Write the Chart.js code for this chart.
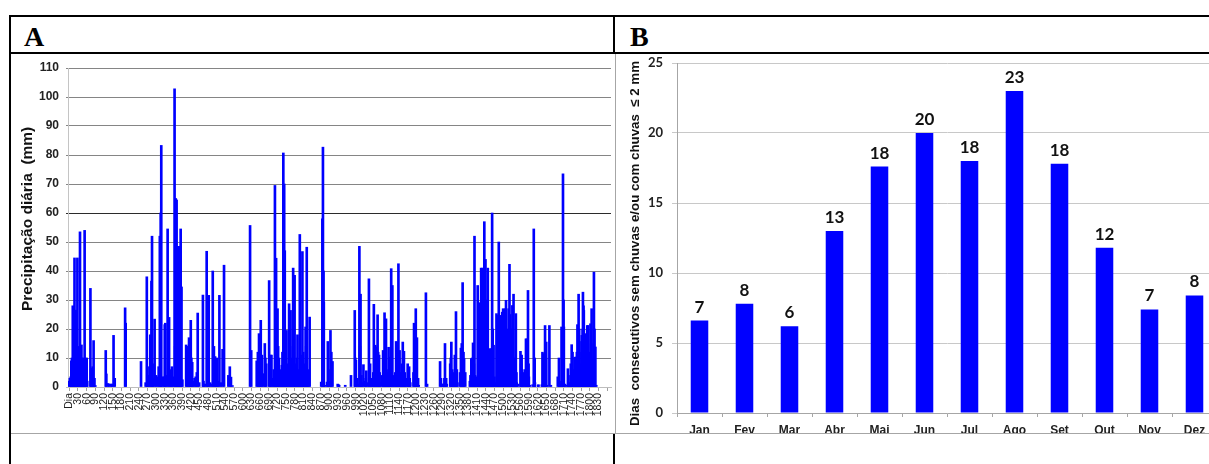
<!DOCTYPE html>
<html>
<head>
<meta charset="utf-8">
<script src="https://cdn.jsdelivr.net/npm/chart.js@4.4.1/dist/chart.umd.min.js"></script>
<style>
  html, body { margin: 0; padding: 0; width: 1209px; height: 464px; overflow: hidden; background: #fff; }
  .rule { position: absolute; background: #000; }
  .soft { position: absolute; background: #a6a6a6; }
  .letter { position: absolute; top: 23px; font: bold 28px "Liberation Serif", "Times New Roman", serif; line-height: 28px; color: #000; }
  canvas { position: absolute; }
  #chartA { left: 11px; top: 54px; }
  #chartB { left: 615px; top: 54px; }
</style>
</head>
<body>
<canvas id="chartA" width="603" height="379"></canvas>
<canvas id="chartB" width="602" height="379"></canvas>

<!-- table frame -->
<div class="rule" style="left:9px; top:15px; width:1200px; height:2px"></div>
<div class="rule" style="left:9px; top:15px; width:2px; height:449px"></div>
<div class="rule" style="left:9px; top:52px; width:1200px; height:2px"></div>
<div class="rule" style="left:613px; top:15px; width:2px; height:38px"></div>
<div class="rule" style="left:613px; top:433px; width:2px; height:31px"></div>
<div class="soft" style="left:11px; top:433px; width:1198px; height:1px"></div>
<div class="soft" style="left:615px; top:54px; width:1px; height:379px"></div>
<div class="letter" style="left:24px">A</div>
<div class="letter" style="left:630px">B</div>

<script>
// Panel A - daily rainfall (day index, mm); days not listed had no rain
const rainDays = [
  0, 2, 5, 7, 9, 12, 14, 16, 18, 21, 23, 25, 28, 30, 32, 35, 37, 39, 42, 44, 46, 48, 51, 53, 55, 58, 60, 62, 73, 75, 77, 81, 84, 87, 90,
  126, 128, 134, 138, 144, 148, 153, 157, 193, 195, 248,
  264, 268, 270, 272, 277, 280, 284, 286, 288, 290, 295, 300, 305, 309, 313, 316, 318, 322, 327, 330, 332, 336, 340, 345, 349, 352, 355, 360, 364, 366, 368, 371, 373, 374, 376, 379, 381, 383, 385, 388, 391,
  404, 407, 411, 414, 418, 420, 422, 425, 428, 433, 437, 441, 444, 449, 462, 464, 466, 471, 475, 479, 482, 487, 492, 496, 500, 504, 508, 510, 515, 519, 524, 530, 535, 550, 555, 559, 564,
  625, 629, 648, 652, 656, 659, 662, 666, 671, 676, 678, 681, 691, 693, 696, 699, 704, 707, 711, 713, 715, 718, 720, 722, 725, 727, 729, 733, 735, 737, 740, 743, 745, 748, 751, 753, 756, 760, 763, 765, 767, 770, 774, 776, 779, 781, 783, 787, 789, 791, 794, 797, 800, 802, 804, 806, 809, 811, 813, 817, 819, 821, 825, 827, 831,
  871, 875, 877, 879, 880, 885, 891, 894, 896, 899, 903, 906, 910, 928, 931, 933, 954, 974, 987, 989, 991, 995, 998, 1003, 1005, 1007, 1010, 1012, 1017, 1021, 1025, 1027, 1032, 1036, 1040, 1043, 1047, 1051, 1053, 1056, 1058, 1060, 1063, 1066, 1068, 1071, 1073, 1075, 1081, 1085, 1088, 1090, 1093, 1095, 1097, 1100, 1102, 1104, 1107, 1109, 1111, 1113, 1117, 1119, 1123, 1127, 1130, 1132, 1134, 1138, 1140, 1142, 1145, 1147, 1150, 1153, 1155, 1157, 1160, 1162, 1165, 1170, 1172, 1175, 1177, 1179, 1190, 1192, 1195, 1198, 1200, 1202, 1206, 1208, 1233, 1237,
  1282, 1285, 1288, 1291, 1295, 1297, 1299, 1303, 1305, 1317, 1319, 1321, 1324, 1326, 1330, 1333, 1335, 1337, 1340, 1342, 1351, 1354, 1357, 1360, 1363, 1365, 1369, 1385, 1387, 1390,
  1393, 1396, 1399, 1401, 1403, 1405, 1409, 1412, 1415, 1416, 1418, 1420, 1423, 1424, 1426, 1429, 1431, 1432, 1434, 1435, 1438, 1439, 1441, 1444, 1446, 1447, 1449, 1450, 1454, 1457,
  1460, 1462, 1464, 1467, 1470, 1474, 1477, 1479, 1482, 1484, 1485, 1487, 1489, 1491, 1493, 1495, 1497, 1499, 1500, 1502, 1504, 1506, 1507, 1509, 1510, 1513, 1514, 1516, 1519, 1521,
  1522, 1524, 1525, 1528, 1529, 1531, 1532, 1535, 1536, 1538, 1539, 1542, 1544, 1546, 1547, 1552, 1560, 1562, 1564, 1566, 1568, 1573, 1576, 1579, 1582, 1584, 1586, 1588, 1589, 1592,
  1602, 1606, 1609, 1610, 1621, 1622, 1634, 1636, 1639, 1641, 1643, 1645, 1648, 1649, 1652, 1660, 1665, 1689, 1693, 1695, 1697, 1702, 1704, 1707, 1709, 1710, 1714, 1719, 1724, 1726,
  1729, 1732, 1734, 1737, 1739, 1740, 1744, 1746, 1748, 1751, 1753, 1755, 1757, 1760, 1761, 1763, 1764, 1767, 1769, 1771, 1772, 1775, 1776, 1778, 1779, 1782, 1783, 1785, 1786, 1789,
  1791, 1793, 1794, 1797, 1798, 1800, 1802, 1805, 1806, 1808, 1811, 1812, 1814, 1816, 1819, 1822
];

const rainMm = [
  2, 3, 3.5, 9, 10, 28, 27.5, 10, 44.5, 11, 26.5, 9, 44.5, 10, 14, 9, 53.5, 8, 14.5, 10, 9.5, 10, 8, 54, 10, 9, 10, 2, 34, 6, 6.5, 7, 16, 3, 0.5,
  12.6, 4.5, 1.2, 1, 1, 1, 17.8, 3, 27.3, 22, 8.8,
  1.5, 38, 3, 4, 7, 18, 36.5, 52, 8, 3, 23.4, 4, 3.5, 7, 52, 60, 83.3, 3.5, 3.5, 21.5, 22, 4, 54.5, 24, 5, 6, 7, 3.5, 102.8, 14, 65, 64.5, 45, 14, 48.5, 46, 48.5, 14, 54.5, 34.5, 2.5,
  14.5, 14, 8, 17, 5, 23, 10, 8.5, 2, 3, 3.5, 5, 25.5, 1.5, 31.7, 2, 1, 1, 46.8, 14, 31.6, 1.5, 1, 40, 14, 10.5, 3, 10, 2, 31.6, 1.5, 13, 42, 4, 7, 3.4, 0.5,
  55.7, 12.6, 9, 12, 18.4, 12, 23, 11, 4.6, 15, 10, 8, 36.7, 8, 11, 11, 3, 6, 69.5, 10, 44.4, 14, 27, 14, 10, 4, 5, 6, 7.5, 12, 80.7, 70, 47, 4.6, 19.5, 8, 4, 28.7, 14, 26.4, 10, 4, 41, 12, 38.5, 8, 4, 10, 18, 6, 4, 52.6, 10, 11, 8, 46.7, 12, 8, 5, 20.7, 14, 48.2, 6, 1.5, 24.1,
  1.7, 58, 82.7, 40, 29.3, 0.6, 1.7, 15.7, 6, 2, 19.5, 12, 8.8, 1, 0.8, 0.6, 0.6, 4, 26.4, 10, 9.2, 3, 1, 48.5, 14, 32, 4, 1.5, 7.7, 2, 3, 5.6, 1.5, 37.3, 8, 3, 1, 5, 28.5, 14, 14.4, 10, 13.8, 24.9, 12, 11, 5, 1.5, 4, 12.6, 8, 25.6, 14, 23.5, 6, 1.5, 5, 13.7, 10, 10.3, 6, 40.8, 35, 4, 1.5, 5, 15.7, 10, 15.5, 42.5, 10, 12.6, 5, 1.5, 8, 15.5, 10, 12.3, 5, 1.5, 3, 8, 6, 7, 3, 1.5, 5, 22, 20, 27, 12, 17, 3, 0.6, 32.5, 1,
  8.8, 3, 1, 1, 1, 3, 15, 3, 1, 8, 10, 15.5, 6, 1.5, 5, 11, 10, 26, 6, 1.5, 5, 13.4, 15, 36, 12, 9.8, 5, 2, 4, 9.8,
  10, 15.2, 8, 52, 4, 3, 3.5, 35, 29, 28.7, 29, 28.7, 20, 41, 30, 41, 20, 11, 38, 57, 30, 44, 25, 20, 30, 41, 8, 5.7, 13.2, 13.2,
  10, 60, 20, 14.4, 3.5, 1.5, 25.3, 14, 24.7, 20, 50, 18, 24.1, 14, 24.7, 10, 25.8, 15, 27, 12, 18.4, 8, 27, 20, 29.9, 8, 13.8, 20, 27, 10,
  42.3, 25, 20, 8, 12, 20, 28.1, 10, 32, 8, 3, 10, 25.3, 5, 1.5, 1, 12.3, 8, 11, 6, 5, 0.6, 6, 16.6, 16.6, 10, 33.3, 8, 3.5, 0.6,
  0.8, 54.5, 10, 1.5, 0.6, 0.8, 0.8, 12, 5, 11.5, 8, 21.2, 10, 15.5, 0.6, 21.2, 0.6, 3.5, 10, 2, 1, 20.7, 10, 73.5, 30, 20.7, 1, 0.6, 6.3, 4,
  1.5, 1.5, 8, 14.6, 10, 12, 2, 6, 10.3, 8, 10.3, 12, 21.5, 16, 32, 20, 15.7, 8, 1.5, 12, 17.8, 20, 32.7, 28, 26.4, 18, 17.8, 12, 18.4, 10,
  21.2, 15, 21.2, 10, 6.3, 12, 21.8, 15, 27, 8, 5.5, 10, 39.6, 20, 13.8, 0.6
];

// Tick labels along the day axis (one every 30 days; the last tick has none)
const dayTickLabels = [
  'Dia', '30', '60', '90', '120', '150', '180', '210', '240', '270', '300', '330', '360', '390', '420', '450',
  '480', '510', '540', '570', '600', '630', '660', '690', '720', '750', '780', '810', '840', '870', '900', '930',
  '960', '990', '1020', '1050', '1080', '1110', '1140', '1170', '1200', '1230', '1260', '1290', '1320', '1350', '1380', '1410',
  '1440', '1470', '1500', '1530', '1560', '1590', '1620', '1650', '1680', '1710', '1740', '1770', '1800', '1830', ''
];
const dayTickStep = 30;

// Panel B - longest dry spell per month
const months = ['Jan', 'Fev', 'Mar', 'Abr', 'Mai', 'Jun', 'Jul', 'Ago', 'Set', 'Out', 'Nov', 'Dez'];
const dryDays = [6.6, 7.8, 6.2, 13.0, 17.6, 20.0, 18.0, 23.0, 17.8, 11.8, 7.4, 8.4];

const BLUE = '#0000ff';
const SANS = '"Liberation Sans", Arial, sans-serif';

// Fixed axis sizes, so the plot areas land where the original ones are
function fixHeight(h) {
  return scale => {
    scale.height = h;
    scale.paddingLeft = 0;
    scale.paddingRight = 0;
  };
}
function fixWidth(w) {
  return scale => {
    scale.width = w;
    scale.paddingTop = 0;
    scale.paddingBottom = 0;
  };
}

// Draws the rounded value above every bar of panel B
const barValueLabels = {
  id: 'barValueLabels',
  afterDatasetsDraw(chart) {
    const ctx = chart.ctx;
    const meta = chart.getDatasetMeta(0);
    ctx.save();
    ctx.font = 'bold 17px Lato, "Liberation Sans", sans-serif';
    ctx.fillStyle = '#111';
    ctx.textAlign = 'center';
    ctx.textBaseline = 'alphabetic';
    meta.data.forEach((bar, i) => {
      ctx.fillText(String(Math.round(dryDays[i])), bar.x, bar.y - 8);
    });
    ctx.restore();
  }
};

// Panel A
new Chart(document.getElementById('chartA'), {
  type: 'bar',
  data: {
    datasets: [{
      data: rainDays.map((d, i) => ({ x: d, y: rainMm[i] })),
      backgroundColor: BLUE,
      borderWidth: 0,
      barThickness: 2
    }]
  },
  options: {
    responsive: false,
    animation: false,
    events: [],
    layout: { padding: { top: 14, right: 3, left: 0, bottom: 0 } },
    plugins: { legend: { display: false }, tooltip: { enabled: false } },
    scales: {
      x: {
        type: 'linear',
        min: -4.5,
        max: 1873,
        offset: false,
        afterBuildTicks: scale => {
          const ticks = [];
          for (let v = 0; v <= scale.max; v += dayTickStep) ticks.push({ value: v });
          scale.ticks = ticks;
        },
        afterFit: fixHeight(46),
        grid: { drawOnChartArea: false, offset: false, tickLength: 4, color: '#a0a0a0' },
        border: { color: '#bdbdbd' },
        ticks: {
          autoSkip: false,
          maxRotation: 90,
          minRotation: 90,
          padding: 2,
          color: '#222',
          font: { family: SANS, size: 10.5 },
          callback: (v, i) => dayTickLabels[i] || ''
        }
      },
      y: {
        min: 0,
        max: 110,
        afterFit: fixWidth(57),
        grid: {
          tickLength: 2,
          color: c => {
            if (!c.tick) return '#858585';
            if (c.tick.value === 0) return '#bdbdbd';
            return c.tick.value === 60 ? '#2b2b2b' : '#858585';
          }
        },
        border: { color: '#c4c4c4' },
        ticks: { stepSize: 10, padding: 7, color: '#222', font: { family: SANS, size: 12, weight: 'bold' } },
        title: {
          display: true,
          // leading spaces lift the title a little, as in the original
          text: '    Precipitação diária  (mm)',
          color: '#111',
          font: { family: SANS, size: 15.5, weight: 'bold' },
          padding: { top: 7, bottom: 0 }
        }
      }
    }
  }
});

// Panel B
new Chart(document.getElementById('chartB'), {
  type: 'bar',
  data: {
    labels: months,
    datasets: [{
      data: dryDays,
      backgroundColor: BLUE,
      borderWidth: 0,
      barPercentage: 0.39,
      categoryPercentage: 1
    }]
  },
  options: {
    responsive: false,
    animation: false,
    events: [],
    layout: { padding: { top: 9, right: 0, left: 0, bottom: 0 } },
    plugins: { legend: { display: false }, tooltip: { enabled: false } },
    scales: {
      x: {
        afterFit: fixHeight(20),
        grid: { drawOnChartArea: false, tickLength: 4, color: '#a6a6a6' },
        border: { color: '#a6a6a6' },
        ticks: { padding: 6, color: '#222', font: { family: SANS, size: 12, weight: 'bold' } }
      },
      y: {
        min: 0,
        max: 25,
        afterFit: fixWidth(62),
        grid: { color: '#c8c8c8', tickLength: 5 },
        border: { color: '#a6a6a6' },
        ticks: { stepSize: 5, padding: 9, color: '#222', font: { family: 'Lato', size: 13, weight: 'bold' } },
        title: {
          display: true,
          text: 'Dias  consecutivos sem chuvas e/ou com chuvas  ≤ 2 mm   ',
          color: '#111',
          font: { family: SANS, size: 13.3, weight: 'bold' },
          padding: { top: 12, bottom: 0 }
        }
      }
    }
  },
  plugins: [barValueLabels]
});
</script>
</body>
</html>
